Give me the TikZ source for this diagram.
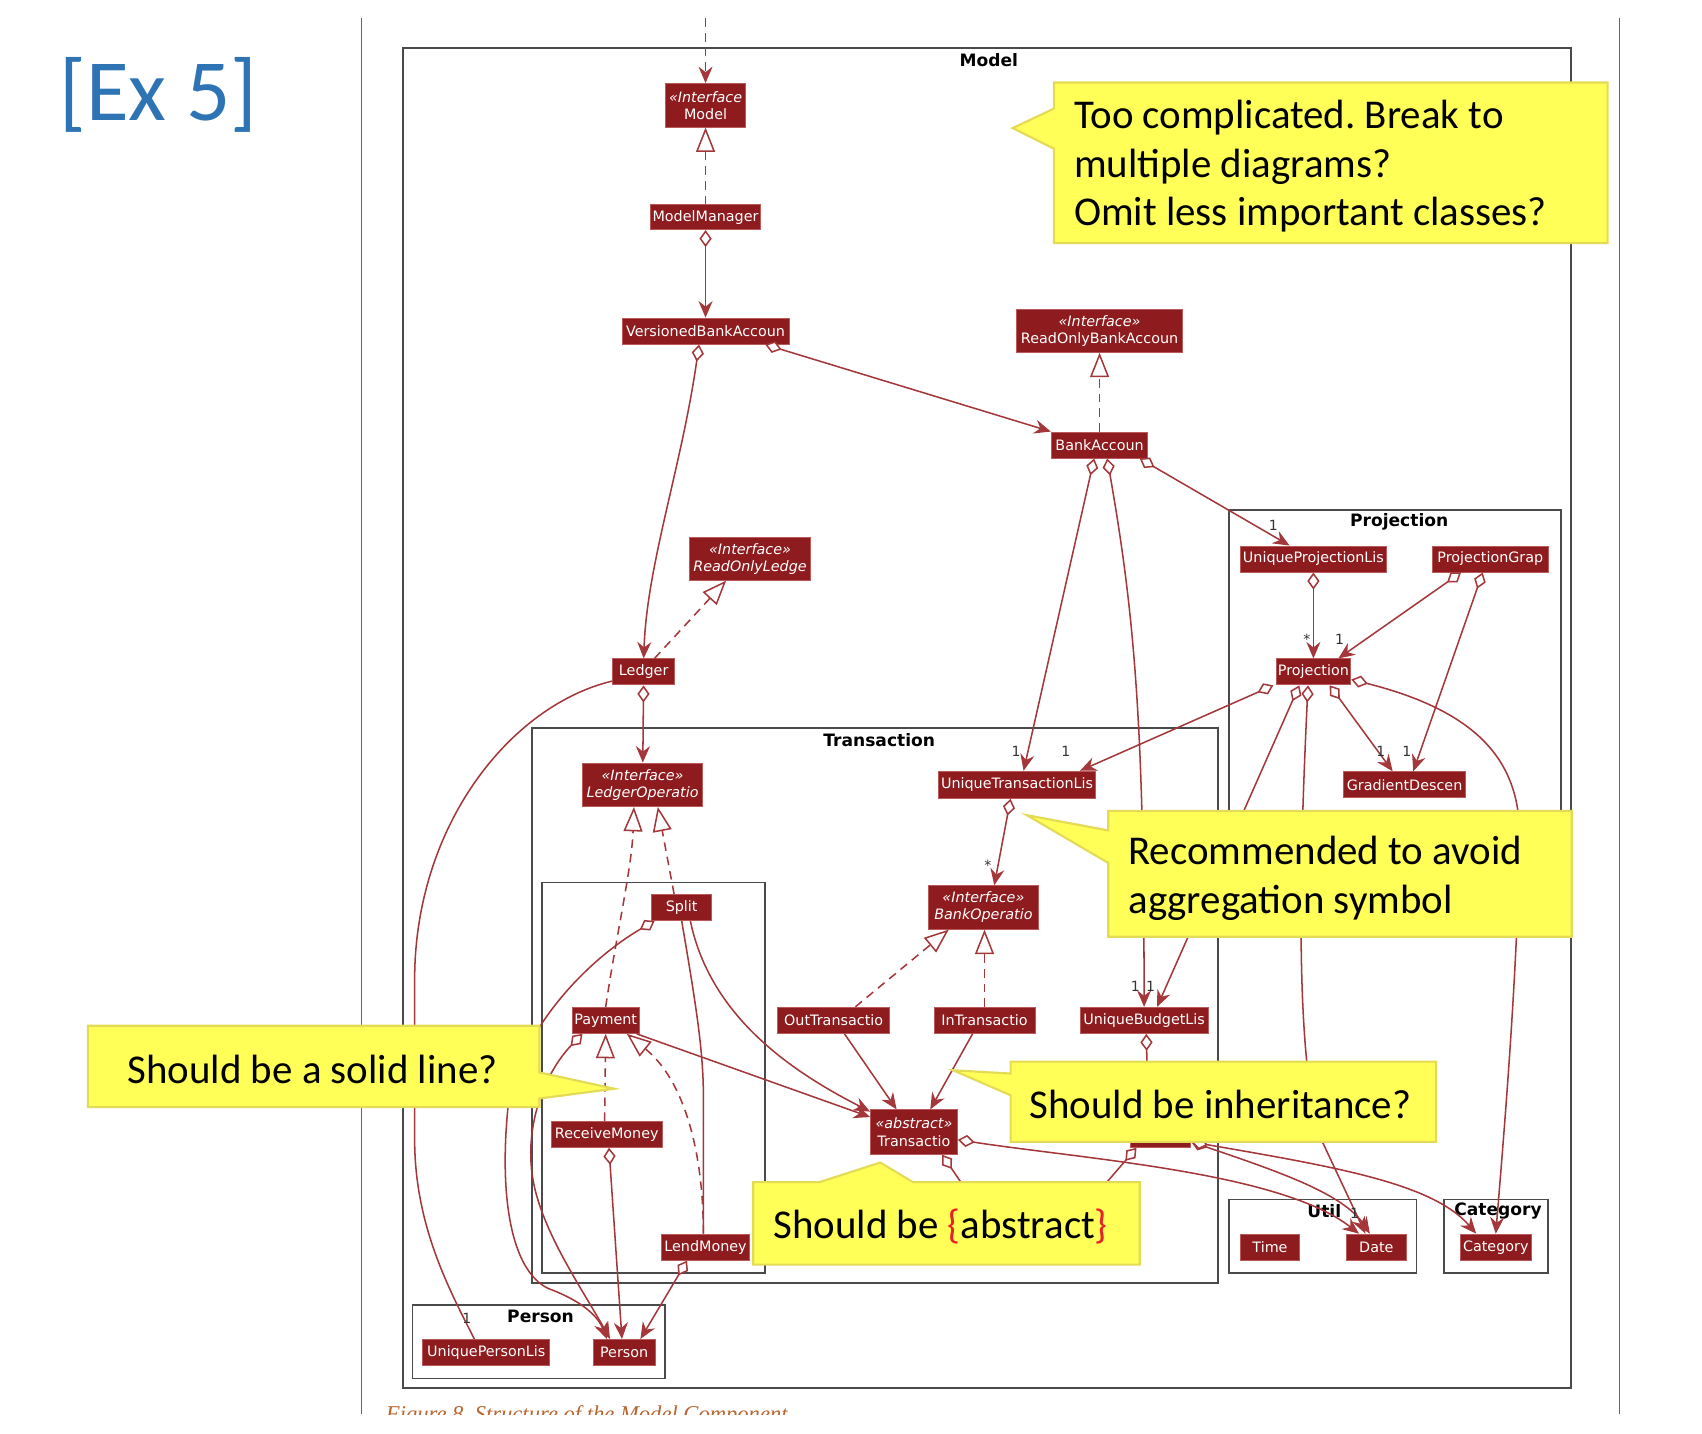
\documentclass[tikz,border=0pt]{standalone}
\usepackage{fontspec}
\setmainfont{DejaVu Sans}
\newfontfamily\calibri{Carlito}
\newfontfamily\capfont{Liberation Serif}
\usetikzlibrary{arrows.meta,calc}
\definecolor{ClassRed}{HTML}{8E1B1E}
\definecolor{ClassEdge}{HTML}{B85A5A}
\definecolor{EdgeRed}{HTML}{A3373A}
\definecolor{FrameGray}{HTML}{4A4A4A}
\definecolor{NoteYellow}{HTML}{FFFF57}
\definecolor{NoteEdge}{HTML}{E3DA55}
\definecolor{ExBlue}{HTML}{2E74B5}
\definecolor{CaptionBrown}{HTML}{B8652F}
\definecolor{BraceRed}{HTML}{E8202A}
\frenchspacing

\begin{document}
\begin{tikzpicture}[
  x=0.125mm,y=-0.125mm,
  cls/.style={draw=ClassEdge,line width=0.3pt,fill=ClassRed,text=white,inner xsep=0.6pt,
    inner ysep=0pt,align=center,font=\fontsize{4.7}{5.6}\selectfont},
  sz/.style 2 args={minimum width=#1*0.125mm,minimum height=#2*0.125mm},
  pkg/.style={draw=FrameGray,line width=0.6pt},
  pkgtitle/.style={font=\bfseries\fontsize{5.6}{6.5}\selectfont,inner sep=0pt},
  mult/.style={font=\fontsize{4.6}{5}\selectfont,text=black!80,inner sep=0pt},
  wire/.style={draw=EdgeRed,line width=0.5pt},
  agg/.style={wire,{Diamond[fill=white,length=5.6pt,width=4pt]}-{Stealth[length=5.4pt,width=4.6pt,inset=1.8pt]}},
  aggopen/.style={wire,{Diamond[fill=white,length=5.6pt,width=4pt]}-},
  assoc/.style={wire,-{Stealth[length=5.4pt,width=4.6pt,inset=1.8pt]}},
  dep/.style={wire,dash pattern=on 2.8pt off 2pt,-{Stealth[length=5.4pt,width=4.6pt,inset=1.8pt]}},
  real/.style={wire,dash pattern=on 2.8pt off 2pt,-{Triangle[fill=white,length=8pt,width=6.2pt]}},
  note/.style={fill=NoteYellow,draw=NoteEdge,line width=0.7pt,line join=miter},
  notetext/.style={font=\calibri\fontsize{13.4}{15.9}\selectfont,inner sep=0pt,align=left},
  sepline/.style={draw=black!60,line width=0.5pt}
]
  \useasboundingbox (0,0) rectangle (1568,1321);

  % page rules and slide title
  \draw[sepline] (333,17) -- (333,1303);
  \draw[sepline] (1492,17) -- (1492,1303);
  \node[anchor=base west,font=\calibri\fontsize{28.6}{30}\selectfont,text=ExBlue,inner sep=0pt]
    (title) at (54,111) {[Ex 5]};

  % packages
  \draw[pkg] (371,44) rectangle (1447,1279);
  \node[pkgtitle] (tModel) at (911,55) {Model};
  \draw[pkg] (1132,470) rectangle (1438,800);
  \node[pkgtitle] (tProj) at (1289,481) {Projection};
  \draw[pkg] (490,671) rectangle (1122,1182);
  \node[pkgtitle] (tTrans) at (810,682) {Transaction};
  \draw[pkg] (499,813) rectangle (705,1173);
  \draw[pkg] (380,1202) rectangle (613,1270);
  \node[pkgtitle] (tPerson) at (498,1213) {Person};
  \draw[pkg] (1132,1105) rectangle (1305,1173);
  \node[pkgtitle] (tUtil) at (1220,1116) {Util};
  \draw[pkg] (1330,1105) rectangle (1426,1173);
  \node[pkgtitle] (tCat) at (1380,1116) {Category};

  % classes
  \node[cls,sz={74}{40}] (model) at (650,97) {\textit{«Interface}\\Model};
  \node[cls,sz={101}{23}] (mgr) at (650,200) {ModelManager};
  \node[cls,sz={154}{24}] (vba) at (650,305) {VersionedBankAccoun};
  \node[cls,sz={153}{39}] (robank) at (1013,305) {\textit{«Interface»}\\ReadOnlyBankAccoun};
  \node[cls,sz={89}{24}] (bank) at (1013,410) {BankAccoun};
  \node[cls,sz={111}{39}] (roledger) at (691,515) {\textit{«Interface»}\\\textit{ReadOnlyLedge}};
  \node[cls,sz={57}{24}] (ledger) at (593,619) {Ledger};
  \node[cls,sz={111}{40}] (ledgerop) at (592,723) {\textit{«Interface»}\\\textit{LedgerOperatio}};
  \node[cls,sz={145}{25}] (utl) at (937,723) {UniqueTransactionLis};
  \node[cls,sz={101}{40}] (bankop) at (906,836) {\textit{«Interface»}\\\textit{BankOperatio}};
  \node[cls,sz={55}{24}] (split) at (628,836) {Split};
  \node[cls,sz={62}{24}] (payment) at (558,940) {Payment};
  \node[cls,sz={103}{24}] (outtr) at (768,940) {OutTransactio};
  \node[cls,sz={93}{24}] (intr) at (907,940) {InTransactio};
  \node[cls,sz={118}{24}] (ubl) at (1054,940) {UniqueBudgetLis};
  \node[cls,sz={102}{24}] (recv) at (559,1045) {ReceiveMoney};
  \node[cls,sz={80}{41}] (trans) at (842,1043) {\textit{«abstract»}\\Transactio};
  \node[cls,sz={81}{24}] (lend) at (650,1149) {LendMoney};
  \node[cls,sz={117}{24}] (upl) at (448,1246) {UniquePersonLis};
  \node[cls,sz={57}{24}] (person) at (575,1246) {Person};
  \node[cls,sz={134}{24}] (uprojl) at (1210,515) {UniqueProjectionLis};
  \node[cls,sz={107}{24}] (pgraph) at (1373,515) {ProjectionGrap};
  \node[cls,sz={69}{24}] (proj) at (1210,619) {Projection};
  \node[cls,sz={113}{24}] (gd) at (1294,723) {GradientDescen};
  \node[cls,sz={54}{24}] (time) at (1170,1149) {Time};
  \node[cls,sz={56}{24}] (date) at (1268,1149) {Date};
  \node[cls,sz={65}{24}] (cat) at (1378,1149) {Category};
  \node[cls,sz={56}{26}] (budget) at (1069,1044) {};

  % connectors
  \coordinate (entry) at (650,17);
  \draw[dep] (entry) -- (model.north);
  \draw[real] (mgr) -- (model);
  \draw[agg] (mgr) -- (vba);
  \draw[agg] ($(vba.south)+(-6,0)$) .. controls (628,430) and (596,520) .. (ledger.north);
  \draw[agg] ($(vba.south)+(55,0)$) -- (bank.north west);
  \draw[real] (bank) -- (robank);
  \draw[agg] ($(bank.south)+(-5,0)$) -- ($(utl.north)+(6,0)$);
  \draw[agg] ($(bank.south)+(7,0)$) .. controls (1044,560) and (1054,660) .. (ubl.north);
  \draw[agg] ($(bank.south)+(37,0)$) -- ($(uprojl.north)+(-22,0)$);
  \draw[real] ($(ledger.north)+(10,0)$) -- ($(roledger.south)+(-22,0)$);
  \draw[agg] (ledger) -- (ledgerop);
  \draw[wire] ($(ledger.south west)+(0,-4)$) .. controls (470,650) and (383,760) .. (382,900)
    -- (382,1050) .. controls (382,1130) and (415,1190) .. ($(upl.north)+(-11,0)$);

  \draw[agg] (uprojl) -- (proj);
  \draw[agg] ($(pgraph.south)+(-27,0)$) -- ($(proj.north)+(23,0)$);
  \draw[agg] ($(pgraph.south)+(-7,0)$) -- ($(gd.north)+(8,0)$);
  \draw[agg] ($(proj.south)+(15,0)$) -- ($(gd.north)+(-11,0)$);
  \draw[agg] ($(proj.south west)+(-2,0)$) -- ($(utl.north)+(58,0)$);
  \draw[agg] ($(proj.south)+(-13,0)$) -- ($(ubl.north)+(12,0)$);
  \draw[agg] ($(proj.south)+(-5,0)$) .. controls (1198,780) and (1192,960) .. (1215,1045)
    -- ($(date.north)+(-10,0)$);
  \draw[agg] ($(proj.east)+(0,7)$) .. controls (1360,655) and (1400,700) .. (1400,770)
    .. controls (1398,900) and (1385,1050) .. (cat.north);

  \draw[agg] ($(utl.south)+(-6,0)$) -- ($(bankop.north)+(10,0)$);
  \draw[real] ($(outtr.north)+(20,0)$) -- ($(bankop.south west)+(19,0)$);
  \draw[real] (intr.north) -- ($(bankop.south)+(1,0)$);
  \draw[assoc] ($(outtr.south)+(10,0)$) -- ($(trans.north)+(-16,0)$);
  \draw[assoc] ($(intr.south)+(-11,0)$) -- ($(trans.north)+(15,0)$);
  \draw[assoc] ($(payment.south east)+(-3,0)$) -- ($(trans.north west)+(0,7)$);
  \draw[assoc] ($(split.south)+(8,0)$) .. controls (655,940) and (735,990) .. ($(trans.north west)+(0,2)$);
  \draw[wire] (split.south) .. controls (642,930) and (648,970) .. (648,1010) -- ($(lend.north)+(-2,0)$);

  \draw[agg] ($(split.south west)+(3,0)$) .. controls (540,885) and (478,950) .. (468,1020)
    .. controls (460,1100) and (470,1170) .. (505,1187)
    .. controls (540,1200) and (552,1215) .. ($(person.north)+(-16,0)$);
  \draw[agg] ($(payment.south west)+(10,0)$) .. controls (505,985) and (484,1030) .. (490,1080)
    .. controls (496,1130) and (535,1185) .. ($(person.north)+(-13,0)$);
  \draw[agg] ($(recv.south)+(2,0)$) -- ($(person.north)+(-2,0)$);
  \draw[agg] ($(lend.south)+(-17,0)$) -- ($(person.north)+(15,0)$);
  \draw[real] ($(recv.north)+(-2,0)$) -- (payment.south);
  \draw[real] ($(lend.north)+(-2,0)$) .. controls (648,1060) and (630,995) .. ($(payment.south east)+(-12,0)$);
  \draw[real] (payment.north) .. controls (568,860) and (582,800) .. ($(ledgerop.south)+(-8,0)$);
  \draw[real] ($(split.north)+(-7,0)$) -- ($(ledgerop.south)+(14,0)$);

  \draw[agg] ($(ubl.south)+(2,0)$) -- ($(budget.north)+(-11,0)$);
  \draw[agg] ($(trans.east)+(0,7)$) .. controls (1000,1068) and (1180,1080) .. ($(date.north)+(-16,0)$);
  \draw[agg] ($(budget.east)+(0,8)$) .. controls (1180,1080) and (1238,1100) .. ($(date.north)+(-6,0)$);
  \draw[agg] ($(budget.east)+(0,8)$) .. controls (1230,1075) and (1320,1090) .. ($(cat.north)+(-18,0)$);
  \coordinate (hidA) at (905,1118);
  \coordinate (hidB) at (1000,1112);
  \draw[aggopen] ($(trans.south)+(26,0)$) -- (hidA);
  \draw[aggopen] ($(budget.south)+(-22,0)$) -- (hidB);

  % multiplicities
  \node[mult] (m1) at (936,692) {1};
  \node[mult] (m2) at (982,692) {1};
  \node[mult] (m3) at (1173,484) {1};
  \node[mult] (m4) at (1204,589) {*};
  \node[mult] (m5) at (1234,589) {1};
  \node[mult] (m6) at (1272,692) {1};
  \node[mult] (m7) at (1296,692) {1};
  \node[mult] (m8) at (910,797) {*};
  \node[mult] (m9) at (1046,909) {1};
  \node[mult] (m10) at (1060,909) {1};
  \node[mult] (m11) at (430,1215) {1};
  \node[mult] (m12) at (1248,1118) {1};

  % caption, cut at the page edge
  \begin{scope}
    \clip (0,0) rectangle (1568,1303);
    \node[anchor=base west,font=\capfont\itshape\fontsize{7.4}{9}\selectfont,text=CaptionBrown,inner sep=0pt]
      (caption) at (355,1310) {Figure 8. Structure of the Model Component};
  \end{scope}

  % review notes
  \draw[note] (971,76) -- (1481,76) -- (1481,224) -- (971,224) -- (971,137) -- (933,118) -- (971,100) -- cycle;
  \node[notetext,anchor=north west] (noteA) at (989,92)
    {Too complicated. Break to\\multiple diagrams?\\Omit less important classes?};
  \draw[note] (1021,747) -- (1448,747) -- (1448,863) -- (1021,863) -- (1021,795) -- (946,751) -- (1021,765) -- cycle;
  \node[notetext,anchor=north west] (noteB) at (1039,770)
    {Recommended to avoid\\aggregation symbol};
  \draw[note] (81,945) -- (497,945) -- (497,988) -- (566,1003) -- (497,1012) -- (497,1020) -- (81,1020) -- cycle;
  \node[notetext,anchor=base west] (noteC) at (117,998) {Should be a solid line?};
  \draw[note] (931,978) -- (1323,978) -- (1323,1052) -- (931,1052) -- (931,1009) -- (878,986) -- (931,989) -- cycle;
  \node[notetext,anchor=base west] (noteD) at (948,1030) {Should be inheritance?};
  \draw[note] (694,1089) -- (755,1089) -- (811,1071) -- (841,1089) -- (1050,1089) -- (1050,1165) -- (694,1165) -- cycle;
  \node[notetext,anchor=base west] (noteE) at (712,1141)
    {Should be \textcolor{BraceRed}{\{}abstract\textcolor{BraceRed}{\}}};
\end{tikzpicture}
\end{document}
